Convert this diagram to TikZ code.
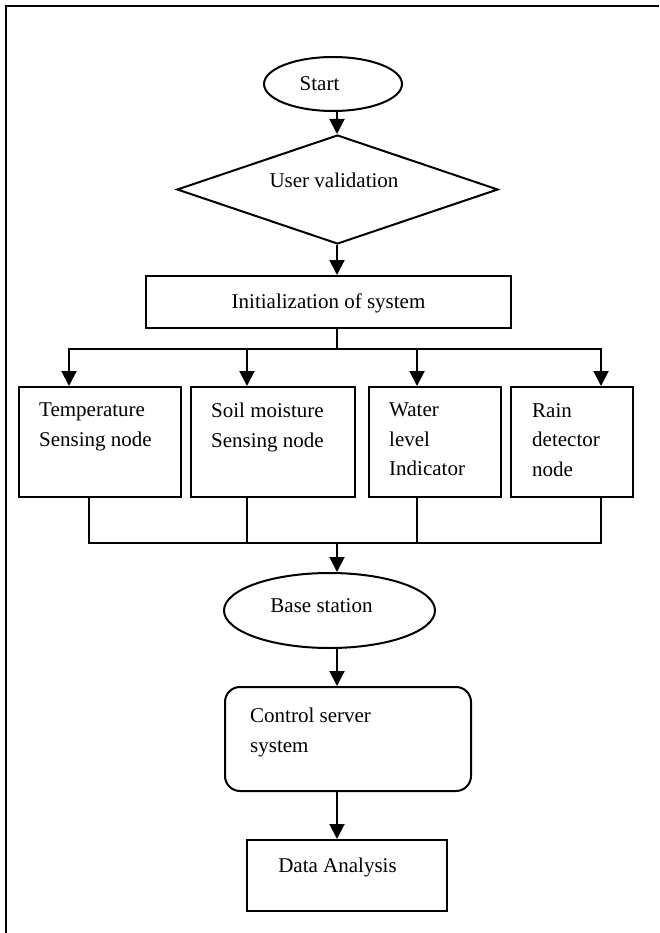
\documentclass[tikz,border=0pt]{standalone}
\usepackage{fontspec}
\setmainfont{Liberation Serif}
\usetikzlibrary{shapes.geometric,arrows.meta}
\begin{document}
\begin{tikzpicture}[x=1pt,y=-1pt,
  lw/.style={line width=2pt},
  box/.style={draw,lw,rectangle,inner sep=0pt},
  oval/.style={draw,lw,ellipse,inner sep=0pt},
  txt/.style={inner sep=0pt,font=\fontsize{21}{29.5}\selectfont,align=left},
  arr/.style={lw,-{Triangle[length=15pt,width=15pt]}},
  ln/.style={lw}]
\useasboundingbox (0,0) rectangle (659,933);
% frame
\draw[lw] (6,933) -- (6,6) -- (659,6);

% shapes
\node[oval,minimum width=138pt,minimum height=54pt] (start) at (333,84) {};
\node[txt,anchor=base] (tstart) at (319.5,91) {Start};

\node[diamond,draw,lw,inner sep=0pt,minimum width=321pt,minimum height=109pt] (val) at (337.5,189.5) {};
\node[txt,anchor=base] (tval) at (334,188) {User validation};

\node[box,minimum width=365pt,minimum height=52pt] (init) at (328.5,302) {};
\node[txt,anchor=base] (tinit) at (328.5,308) {Initialization of system};

\node[box,minimum width=162pt,minimum height=110pt] (T) at (100,442) {};
\node[box,minimum width=164pt,minimum height=110pt] (S) at (273,442) {};
\node[box,minimum width=132pt,minimum height=110pt] (W) at (435,442) {};
\node[box,minimum width=122pt,minimum height=110pt] (R) at (572,442) {};
\node[txt,anchor=north west] (tT) at (39,403) {Temperature\\Sensing node};
\node[txt,anchor=north west] (tS) at (211,403) {Soil moisture\\Sensing node};
\node[txt,anchor=north west] (tW) at (389,403) {Water\\level\\Indicator};
\node[txt,anchor=north west] (tR) at (532,403) {Rain\\detector\\node};

\node[oval,minimum width=211pt,minimum height=75pt] (base) at (329.5,610.5) {};
\node[txt,anchor=base] (tbase) at (321.5,612) {Base station};

\node[box,rounded corners=15pt,minimum width=246pt,minimum height=104pt] (ctrl) at (348,739) {};
\node[txt,anchor=north west] (tctrl) at (250,708) {Control server\\system};

\node[box,minimum width=200pt,minimum height=71pt] (data) at (347,875.5) {};
\node[txt,anchor=base] (tdata) at (337.5,872) {Data Analysis};

% connectors
\coordinate (ax) at (337,0);
\coordinate (j1) at (337,349);
\coordinate (a1) at (69,349);
\coordinate (a2) at (247,349);
\coordinate (a3) at (417,349);
\coordinate (a4) at (601,349);
\coordinate (j2) at (337,543);
\coordinate (b1) at (89,543);
\coordinate (b2) at (247,543);
\coordinate (b3) at (417,543);
\coordinate (b4) at (601,543);

\draw[arr] (start.south -| ax) -- (val.north -| ax);
\draw[arr] (val.south -| ax) -- (init.north -| ax);
\draw[ln] (init.south -| ax) -- (j1);
\draw[arr] (j1) -| (T.north -| a1);
\draw[arr] (j1) -| (R.north -| a4);
\draw[arr] (a2) -- (S.north -| a2);
\draw[arr] (a3) -- (W.north -| a3);

\draw[ln] (T.south -| b1) |- (j2);
\draw[ln] (R.south -| b4) |- (j2);
\draw[ln] (S.south -| b2) -- (b2);
\draw[ln] (W.south -| b3) -- (b3);
\draw[arr] (j2) -- (base.north -| ax);
\draw[arr] (base.south -| ax) -- (ctrl.north -| ax);
\draw[arr] (ctrl.south -| ax) -- (data.north -| ax);
\end{tikzpicture}
\end{document}
